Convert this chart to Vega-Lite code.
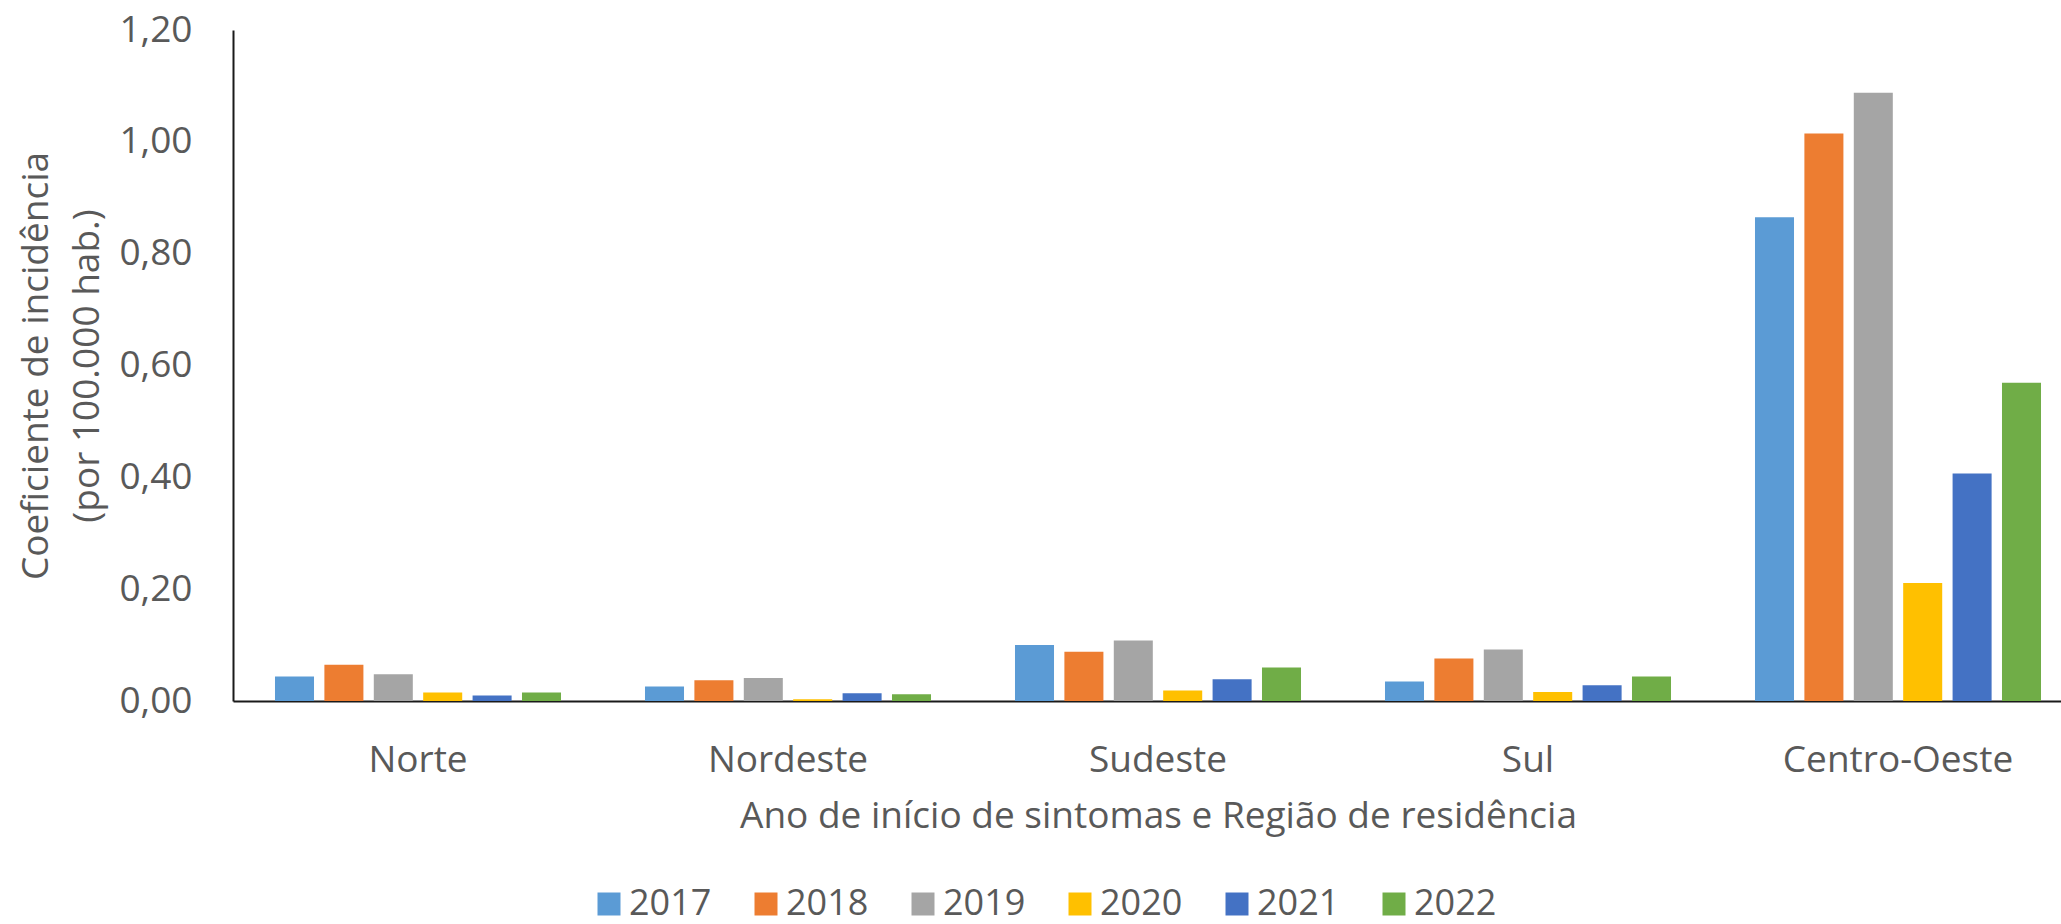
{
  "$schema": "https://vega.github.io/schema/vega-lite/v6.json",
  "width": 1828,
  "height": 671,
  "autosize": {"type": "none"},
  "padding": {"left": 233, "top": 30, "right": 0, "bottom": 223},
  "background": "white",
  "config": {
    "view": {"stroke": null},
    "font": "Open Sans",
    "axis": {"labelFont": "Open Sans", "titleFont": "Open Sans", "labelColor": "#595959", "titleColor": "#595959", "titleFontWeight": "normal", "grid": false, "ticks": false, "tickSize": 0, "domainColor": "#1a1a1a", "domainWidth": 2},
    "legend": {"labelFont": "Open Sans", "labelColor": "#595959"}
  },
  "data": {
    "values": [
      {"regiao": "Norte", "ano": "2017", "valor": 0.044},
      {"regiao": "Norte", "ano": "2018", "valor": 0.065},
      {"regiao": "Norte", "ano": "2019", "valor": 0.048},
      {"regiao": "Norte", "ano": "2020", "valor": 0.015},
      {"regiao": "Norte", "ano": "2021", "valor": 0.010},
      {"regiao": "Norte", "ano": "2022", "valor": 0.015},
      {"regiao": "Nordeste", "ano": "2017", "valor": 0.026},
      {"regiao": "Nordeste", "ano": "2018", "valor": 0.037},
      {"regiao": "Nordeste", "ano": "2019", "valor": 0.041},
      {"regiao": "Nordeste", "ano": "2020", "valor": 0.003},
      {"regiao": "Nordeste", "ano": "2021", "valor": 0.014},
      {"regiao": "Nordeste", "ano": "2022", "valor": 0.012},
      {"regiao": "Sudeste", "ano": "2017", "valor": 0.100},
      {"regiao": "Sudeste", "ano": "2018", "valor": 0.088},
      {"regiao": "Sudeste", "ano": "2019", "valor": 0.108},
      {"regiao": "Sudeste", "ano": "2020", "valor": 0.019},
      {"regiao": "Sudeste", "ano": "2021", "valor": 0.039},
      {"regiao": "Sudeste", "ano": "2022", "valor": 0.060},
      {"regiao": "Sul", "ano": "2017", "valor": 0.035},
      {"regiao": "Sul", "ano": "2018", "valor": 0.076},
      {"regiao": "Sul", "ano": "2019", "valor": 0.092},
      {"regiao": "Sul", "ano": "2020", "valor": 0.016},
      {"regiao": "Sul", "ano": "2021", "valor": 0.028},
      {"regiao": "Sul", "ano": "2022", "valor": 0.044},
      {"regiao": "Centro-Oeste", "ano": "2017", "valor": 0.865},
      {"regiao": "Centro-Oeste", "ano": "2018", "valor": 1.015},
      {"regiao": "Centro-Oeste", "ano": "2019", "valor": 1.088},
      {"regiao": "Centro-Oeste", "ano": "2020", "valor": 0.211},
      {"regiao": "Centro-Oeste", "ano": "2021", "valor": 0.407},
      {"regiao": "Centro-Oeste", "ano": "2022", "valor": 0.569}
    ]
  },
  "mark": {"type": "bar"},
  "encoding": {
    "x": {
      "field": "regiao",
      "type": "nominal",
      "sort": ["Norte", "Nordeste", "Sudeste", "Sul", "Centro-Oeste"],
      "scale": {"range": [0, 1850], "paddingInner": 0, "paddingOuter": 0},
      "axis": {"title": "Ano de início de sintomas e Região de residência", "labelAngle": 0, "labelFontSize": 37, "titleFontSize": 37, "labelPadding": 41, "titlePadding": 20, "labelBaseline": "top", "labelLimit": 600}
    },
    "xOffset": {
      "field": "ano",
      "type": "nominal",
      "scale": {"paddingInner": 0.21, "paddingOuter": 0.85}
    },
    "y": {
      "field": "valor",
      "type": "quantitative",
      "scale": {"domain": [0, 1.2]},
      "axis": {
        "title": ["Coeficiente de incidência", "(por 100.000 hab.)"],
        "values": [0, 0.2, 0.4, 0.6, 0.8, 1.0, 1.2],
        "labelExpr": "replace(format(datum.value, '.2f'), '.', ',')",
        "labelFontSize": 37,
        "titleFontSize": 37,
        "titleLineHeight": 51,
        "labelPadding": 41,
        "titlePadding": 12
      }
    },
    "color": {
      "field": "ano",
      "type": "nominal",
      "scale": {"domain": ["2017", "2018", "2019", "2020", "2021", "2022"], "range": ["#5B9BD5", "#ED7D31", "#A5A5A5", "#FFC000", "#4472C4", "#70AD47"]},
      "legend": {
        "title": null,
        "orient": "none",
        "direction": "horizontal",
        "legendX": 358,
        "legendY": 856,
        "padding": 0,
        "symbolType": "square",
        "symbolSize": 529,
        "symbolStrokeWidth": 0,
        "labelFontSize": 36,
        "labelOffset": 2,
        "columnPadding": 36
      }
    }
  }
}
